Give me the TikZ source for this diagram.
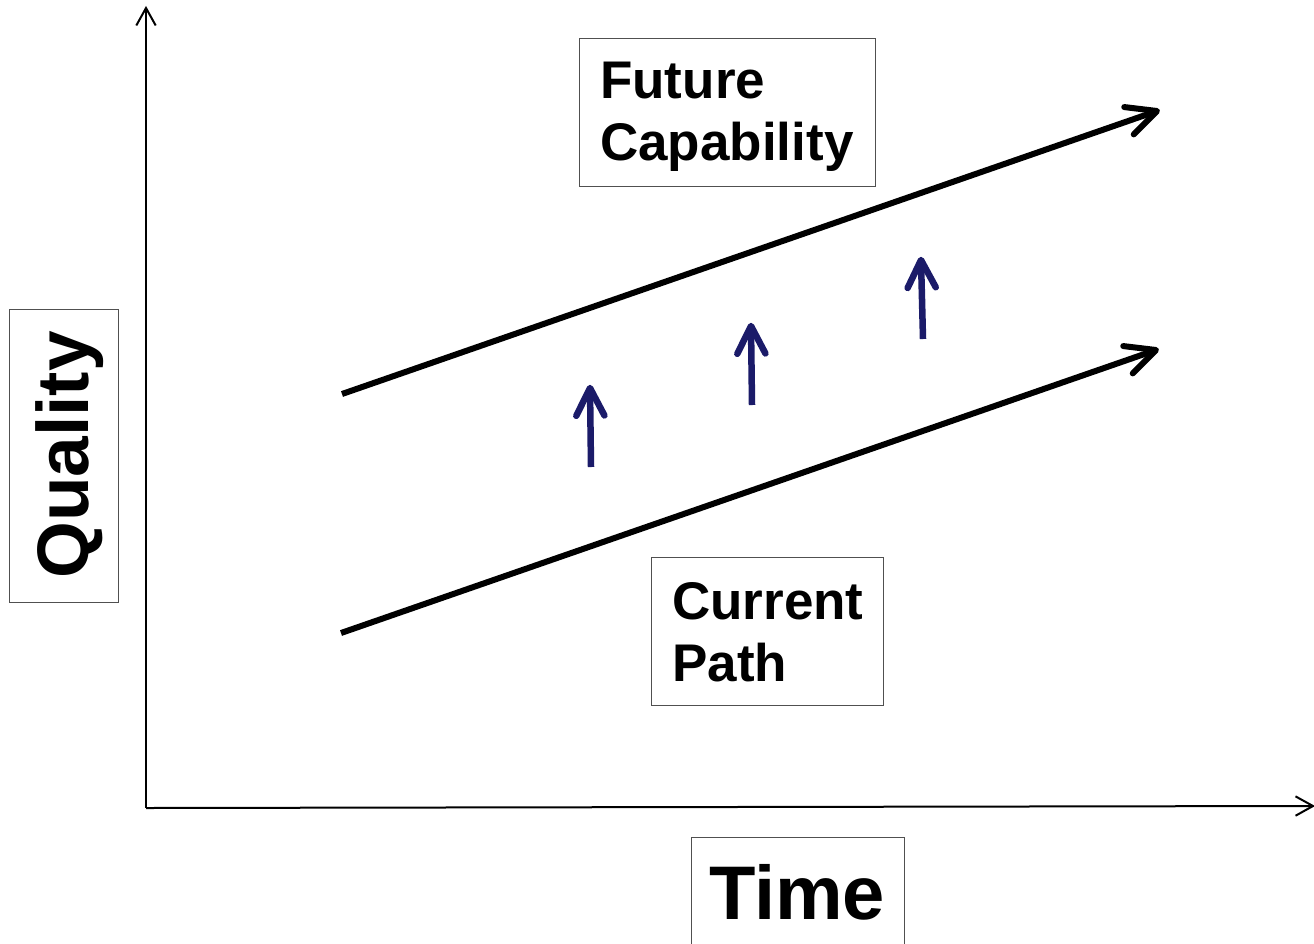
\documentclass[tikz,border=0pt]{standalone}
\usepackage{fontspec}
\setmainfont{Liberation Sans}
\usetikzlibrary{calc}
\definecolor{navy}{RGB}{27,27,105}
\definecolor{boxgray}{RGB}{80,80,80}
\tikzset{
  axis/.style={line width=2pt, line join=miter},
  trend/.style={line width=6pt, line cap=round, line join=round},
  push/.style={navy, line width=6.5pt, line cap=round, line join=round},
  labelbox/.style={draw=boxgray, line width=1pt, inner sep=0pt},
  labeltext/.style={inner sep=0pt, align=left, font=\bfseries}
}
% #1 style, #2 start, #3 tip, #4 head length, #5 half angle
\newcommand{\chevronline}[5]{%
  \draw[#1] (#2) -- (#3);
  \draw[#1] ($(#3)!#4!#5:(#2)$) -- (#3) -- ($(#3)!#4!-#5:(#2)$);
}
\begin{document}
\begin{tikzpicture}[x=1pt,y=-1pt]
\useasboundingbox (0,0) rectangle (1314,943);
% axes
\coordinate (O) at (146,808);
\coordinate (ytop) at (146,8);
\coordinate (xend) at (1313,806);
\chevronline{axis, line cap=butt}{O}{ytop}{20pt}{29}
\chevronline{axis, line cap=butt}{O}{xend}{20pt}{29}
% trend lines
\coordinate (fs) at (342,394);
\coordinate (fe) at (1157,111);
\coordinate (cs) at (341,633);
\coordinate (ce) at (1156,350);
\draw[trend, line cap=butt] (fs) -- (fe);
\draw[trend] ($(fe)!33pt!26:(fs)$) -- (fe) -- ($(fe)!33pt!-26:(fs)$);
\draw[trend, line cap=butt] (cs) -- (ce);
\draw[trend] ($(ce)!33pt!26:(cs)$) -- (ce) -- ($(ce)!33pt!-26:(cs)$);
% blue arrows
\coordinate (a1s) at (591,467); \coordinate (a1e) at (590,388);
\coordinate (a2s) at (752,405); \coordinate (a2e) at (751,326);
\coordinate (a3s) at (923,339); \coordinate (a3e) at (921,260);
\draw[push, line cap=butt] (a1s) -- (a1e);
\draw[push] ($(a1e)!31pt!27:(a1s)$) -- (a1e) -- ($(a1e)!31pt!-27:(a1s)$);
\draw[push, line cap=butt] (a2s) -- (a2e);
\draw[push] ($(a2e)!31pt!27:(a2s)$) -- (a2e) -- ($(a2e)!31pt!-27:(a2s)$);
\draw[push, line cap=butt] (a3s) -- (a3e);
\draw[push] ($(a3e)!31pt!27:(a3s)$) -- (a3e) -- ($(a3e)!31pt!-27:(a3s)$);
% boxes
\node[labelbox, minimum width=296pt, minimum height=148pt] (futurebox) at (727,112) {};
\node[labeltext, anchor=north west, font=\bfseries\fontsize{53}{62}\selectfont] (futuretext) at (600,62) {Future\\Capability};
\node[labelbox, minimum width=232pt, minimum height=148pt] (currentbox) at (767,631) {};
\node[labeltext, anchor=north west, font=\bfseries\fontsize{53}{62}\selectfont] (currenttext) at (672,582) {Current\\Path};
\node[labelbox, minimum width=109pt, minimum height=293pt] (qualitybox) at (63.5,455.5) {};
\node[labeltext, rotate=90, font=\bfseries\fontsize{73}{80}\selectfont] (qualitytext) at (70,455) {Quality};
\node[labelbox, minimum width=213pt, minimum height=140pt, anchor=north] (timebox) at (797.5,837) {};
\node[labeltext, anchor=base, font=\bfseries\fontsize{76}{80}\selectfont] (timetext) at (797,919) {Time};
\end{tikzpicture}
\end{document}
